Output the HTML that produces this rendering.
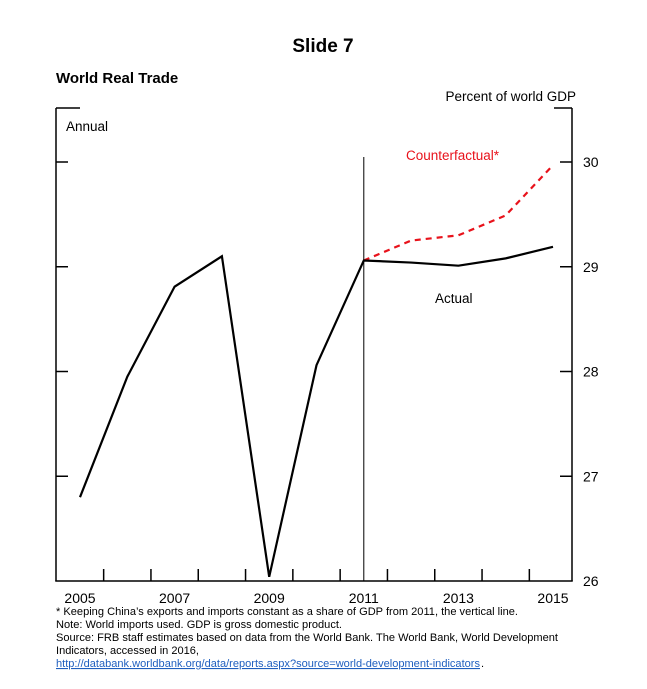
<!DOCTYPE html>
<html><head><meta charset="utf-8"><style>
body{margin:0;background:#fff;width:647px;height:689px;overflow:hidden;font-family:"Liberation Sans",sans-serif;}
svg{position:absolute;left:0;top:0}
</style></head><body>
<svg width="647" height="689" xmlns="http://www.w3.org/2000/svg">
<text x="323" y="52" text-anchor="middle" font-size="19" font-weight="bold" font-family="Liberation Sans, sans-serif">Slide 7</text>
<text x="56" y="83" font-size="15" font-weight="bold">World Real Trade</text>
<text x="576" y="101" text-anchor="end" font-size="13.5">Percent of world GDP</text>
<text x="66" y="131" font-size="13.5">Annual</text>
<g id="axes" stroke="#000" stroke-width="1.5" fill="none"></g>
<g id="marks"></g>
<text x="406" y="160" font-size="13.5" fill="#e8121b">Counterfactual*</text>
<text x="435" y="303" font-size="13.5">Actual</text>
<g font-size="11">
<text x="56" y="615" textLength="462" lengthAdjust="spacingAndGlyphs">* Keeping China’s exports and imports constant as a share of GDP from 2011, the vertical line.</text>
<text x="56" y="628" textLength="286" lengthAdjust="spacingAndGlyphs">Note: World imports used. GDP is gross domestic product.</text>
<text x="56" y="641" textLength="502" lengthAdjust="spacingAndGlyphs">Source: FRB staff estimates based on data from the World Bank. The World Bank, World Development</text>
<text x="56" y="654" textLength="143" lengthAdjust="spacingAndGlyphs">Indicators, accessed in 2016,</text>
<text x="56" y="667" fill="#1f5fbf" text-decoration="underline" textLength="424" lengthAdjust="spacingAndGlyphs">http://databank.worldbank.org/data/reports.aspx?source=world-development-indicators</text><text x="481" y="667">.</text>
</g>
</svg>
<script>
const years=[2005,2006,2007,2008,2009,2010,2011,2012,2013,2014,2015];
const actual=[26.80,27.95,28.81,29.10,26.04,28.06,29.06,29.04,29.01,29.08,29.19];
const cfYears=[2011,2012,2013,2014,2015];
const counterfactual=[29.06,29.25,29.30,29.49,29.97];
const yTicks=[26,27,28,29,30];
const xLabels=[2005,2007,2009,2011,2013,2015];
const NS="http://www.w3.org/2000/svg";
const L=56,R=572,T=108,B=581;
const x=v=>80+(v-2005)*47.3;
const y=v=>581-(v-26)*104.75;
const ax=document.getElementById('axes'),mk=document.getElementById('marks'),svg=document.querySelector('svg');
function ln(p,x1,y1,x2,y2,n,w,c){const e=document.createElementNS(NS,'line');e.setAttribute('x1',x1);e.setAttribute('y1',y1);e.setAttribute('x2',x2);e.setAttribute('y2',y2);if(w)e.setAttribute('stroke-width',w);if(c)e.setAttribute('stroke',c);


p.appendChild(e);return e;}
function tx(s,xx,yy,a,n){const e=document.createElementNS(NS,'text');e.setAttribute('x',xx);e.setAttribute('y',yy);e.setAttribute('font-size','14');e.setAttribute('text-anchor',a);e.textContent=s;


svg.appendChild(e);}
ln(ax,L,T,L,B,'left-axis');ln(ax,R,T,R,B,'right-axis');ln(ax,L-0.75,B,R+0.75,B,'x-axis');
ln(ax,L,T,L+24,T,'top-left-stub');ln(ax,R-18,T,R,T,'top-right-stub');
yTicks.forEach(v=>{if(v>26){ln(ax,L,y(v),L+12,y(v),'left-y-tick');ln(ax,R-12,y(v),R,y(v),'right-y-tick');}
tx(String(v),R+11,y(v)+5,'start','y-tick-label');});
for(let yr=2005.5;yr<2015;yr++){ln(ax,x(yr),B,x(yr),B-12,'x-tick');}
xLabels.forEach(v=>tx(String(v),x(v),B+22,'middle','x-tick-label'));
ln(ax,x(2011),157,x(2011),B,'vertical-line-2011',1);
function path(xs,vs,n,c,d){const e=document.createElementNS(NS,'polyline');e.setAttribute('points',xs.map((a,i)=>x(a)+','+y(vs[i])).join(' '));e.setAttribute('fill','none');e.setAttribute('stroke',c);e.setAttribute('stroke-width','2.2');if(d)e.setAttribute('stroke-dasharray',d);


mk.appendChild(e);}
path(cfYears,counterfactual,'counterfactual-line','#e8121b','6,5');
path(years,actual,'actual-line','#000');
</script>
</body></html>
